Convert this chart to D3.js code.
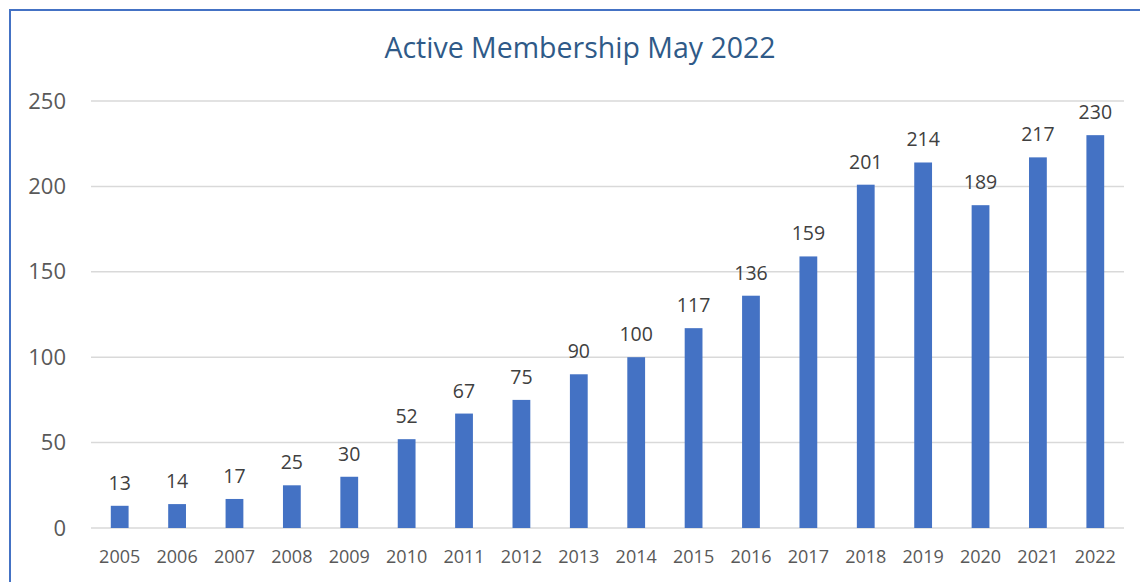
<!DOCTYPE html>
<html>
<head>
<meta charset="utf-8">
<script src="https://cdn.jsdelivr.net/npm/d3@7"></script>
<style>
  html, body { margin: 0; padding: 0; background: #fff; }
  svg { display: block; font-family: "Open Sans", "Noto Sans", sans-serif; }
</style>
</head>
<body>
<div id="chart"></div>
<script>
var years = ["2005", "2006", "2007", "2008", "2009", "2010", "2011", "2012", "2013",
             "2014", "2015", "2016", "2017", "2018", "2019", "2020", "2021", "2022"];
var members = [13, 14, 17, 25, 30, 52, 67, 75, 90, 100, 117, 136, 159, 201, 214, 189, 217, 230];
var yTicks = [0, 50, 100, 150, 200, 250];
var title = "Active Membership May 2022";

var W = 1140, H = 582;
var margin = { top: 101, right: 16, bottom: 54, left: 91 };

var svg = d3.select("#chart").append("svg")
    .attr("width", W)
    .attr("height", H);

// chart frame (only top + left edges visible in the crop)
svg.append("rect")
    .attr("x", 10).attr("y", 10)
    .attr("width", W + 20).attr("height", H + 20)
    .attr("fill", "none")
    .attr("stroke", "#4472C4")
    .attr("stroke-width", 2);

var x = d3.scaleBand()
    .domain(years)
    .range([margin.left, W - margin.right])
    .paddingInner(0.69)
    .paddingOuter(0.345);

var y = d3.scaleLinear()
    .domain([0, 250])
    .range([H - margin.bottom, margin.top]);

// gridlines
svg.append("g")
    .selectAll("line")
    .data(yTicks)
    .enter()
    .append("line")
    .attr("x1", margin.left)
    .attr("x2", W - margin.right)
    .attr("y1", d => y(d))
    .attr("y2", d => y(d))
    .attr("stroke", "#d9d9d9")
    .attr("stroke-width", 1.5);

// y axis labels
var yAxis = d3.axisLeft(y).tickValues(yTicks).tickSize(0).tickPadding(0);
var gy = svg.append("g")
    .attr("transform", "translate(66,0)")
    .call(yAxis);
gy.select(".domain").remove();
gy.selectAll("text")
    .attr("fill", "#595959")
    .style("font-size", "22px")
    .style("font-family", "'Open Sans', 'Noto Sans', sans-serif");

// x axis labels
var xAxis = d3.axisBottom(x).tickSize(0).tickPadding(22);
var gx = svg.append("g")
    .attr("transform", "translate(0," + (H - margin.bottom) + ")")
    .call(xAxis);
gx.select(".domain").remove();
gx.selectAll("text")
    .attr("fill", "#595959")
    .style("font-size", "18px")
    .style("font-family", "'Open Sans', 'Noto Sans', sans-serif");

// bars
svg.append("g")
    .selectAll("rect")
    .data(members)
    .enter()
    .append("rect")
    .attr("x", (d, i) => x(years[i]))
    .attr("y", d => y(d))
    .attr("width", x.bandwidth())
    .attr("height", d => y(0) - y(d))
    .attr("fill", "#4472C4");

// value labels
svg.append("g")
    .selectAll("text")
    .data(members)
    .enter()
    .append("text")
    .attr("x", (d, i) => x(years[i]) + x.bandwidth() / 2)
    .attr("y", d => y(d) - 16)
    .attr("text-anchor", "middle")
    .attr("fill", "#404040")
    .style("font-size", "19.5px")
    .text(d => d);

// title
svg.append("text")
    .attr("x", 580)
    .attr("y", 58)
    .attr("text-anchor", "middle")
    .attr("fill", "#2F5A88")
    .style("font-size", "28.5px")
    .text(title);
</script>
</body>
</html>
